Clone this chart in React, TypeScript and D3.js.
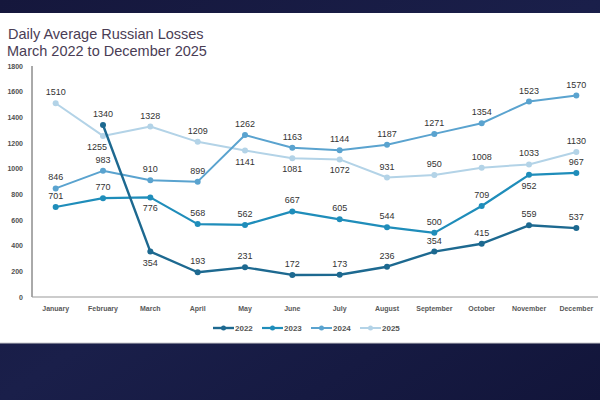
import React from "react";
import * as d3 from "d3";

const WIDTH = 600;
const HEIGHT = 400;

const months = [
  "January", "February", "March", "April", "May", "June",
  "July", "August", "September", "October", "November", "December",
];

const years = ["2022", "2023", "2024", "2025"];

const losses2022 = [null, 1340, 354, 193, 231, 172, 173, 236, 354, 415, 559, 537];
const losses2023 = [701, 770, 776, 568, 562, 667, 605, 544, 500, 709, 952, 967];
const losses2024 = [846, 983, 910, 899, 1262, 1163, 1144, 1187, 1271, 1354, 1523, 1570];
const losses2025 = [1510, 1255, 1328, 1209, 1141, 1081, 1072, 931, 950, 1008, 1033, 1130];

const yTicks = [0, 200, 400, 600, 800, 1000, 1200, 1400, 1600, 1800];

const seriesValues: (number | null)[][] = [losses2022, losses2023, losses2024, losses2025];

const colors = ["#1d6990", "#1f8dba", "#5aa3cf", "#b3d3e7"];
const strokeWidths = [2.4, 2.2, 2, 2];

// months (by index) whose value label sits under the marker
const labelsBelow: number[][] = [[2], [2, 10], [], [1, 4, 5, 6]];

const FONT = "'Liberation Sans', Arial, sans-serif";

export default function App() {
  const x = d3.scaleBand<string>().domain(months).range([32, 600]);
  const y = d3.scaleLinear().domain([0, 1800]).range([297, 66]);
  const cx = (m: string) => (x(m) ?? 0) + x.bandwidth() / 2;

  const line = d3
    .line<number | null>()
    .defined((d) => d != null)
    .x((_, i) => cx(months[i]))
    .y((d) => y(d as number));

  const legendX = [213, 262, 311, 360];
  const drawOrder = [3, 2, 1, 0];

  return (
    <svg
      width={WIDTH}
      height={HEIGHT}
      style={{ position: "absolute", left: 0, top: 0 }}
      fontFamily={FONT}
    >
      <defs>
        <linearGradient id="bg" x1="0" y1="0" x2="1" y2="1">
          <stop offset="0%" stopColor="#15173c" />
          <stop offset="50%" stopColor="#1a1f4a" />
          <stop offset="100%" stopColor="#12153a" />
        </linearGradient>
      </defs>
      <rect width={WIDTH} height={HEIGHT} fill="url(#bg)" />
      <rect x={0} y={13} width={WIDTH} height={330} fill="#ffffff" />
      <line x1={0} x2={WIDTH} y1={343} y2={343} stroke="#c8c8cc" strokeWidth={1} />

      <text x={8} y={39} fontSize={14.5} fill="#4a3d55">
        Daily Average Russian Losses
      </text>
      <text x={7} y={55.5} fontSize={14.5} fill="#4a3d55">
        March 2022 to December 2025
      </text>

      {yTicks.map((t) => (
        <text
          key={t}
          x={23}
          y={y(t) + 2.5}
          fontSize={7}
          fontWeight="bold"
          fill="#505050"
          textAnchor="end"
        >
          {t}
        </text>
      ))}
      <line x1={32} x2={32} y1={y(1800)} y2={y(0)} stroke="#555" strokeWidth={1} />
      <line x1={32} x2={598} y1={y(0)} y2={y(0)} stroke="#9a9a9a" strokeWidth={1.2} />

      {months.map((m) => (
        <text
          key={m}
          x={cx(m)}
          y={311}
          fontSize={7}
          fontWeight="bold"
          fill="#595959"
          textAnchor="middle"
        >
          {m}
        </text>
      ))}

      {drawOrder.map((s) => {
        const vals = seriesValues[s];
        return (
          <g key={years[s]}>
            <path
              d={line(vals) ?? ""}
              fill="none"
              stroke={colors[s]}
              strokeWidth={strokeWidths[s]}
              strokeLinejoin="round"
            />
            {vals.map((v, i) =>
              v == null ? null : (
                <circle key={i} cx={cx(months[i])} cy={y(v)} r={3} fill={colors[s]} />
              )
            )}
          </g>
        );
      })}

      {seriesValues.map((vals, s) => (
        <g key={`lab-${years[s]}`} fontSize={9} fill="#333" textAnchor="middle">
          {vals.map((v, i) =>
            v == null ? null : (
              <text
                key={i}
                x={cx(months[i]) - (s === 3 && i === 1 ? 6 : 0)}
                y={labelsBelow[s].includes(i) ? y(v) + 14 : y(v) - 8}
              >
                {v}
              </text>
            )
          )}
        </g>
      ))}

      {years.map((yr, s) => (
        <g key={`leg-${yr}`}>
          <line
            x1={legendX[s]}
            x2={legendX[s] + 21}
            y1={328}
            y2={328}
            stroke={colors[s]}
            strokeWidth={strokeWidths[s]}
          />
          <circle cx={legendX[s] + 10.5} cy={328} r={2.5} fill={colors[s]} />
          <text x={legendX[s] + 22} y={331} fontSize={8} fontWeight="bold" fill="#555">
            {yr}
          </text>
        </g>
      ))}
    </svg>
  );
}
